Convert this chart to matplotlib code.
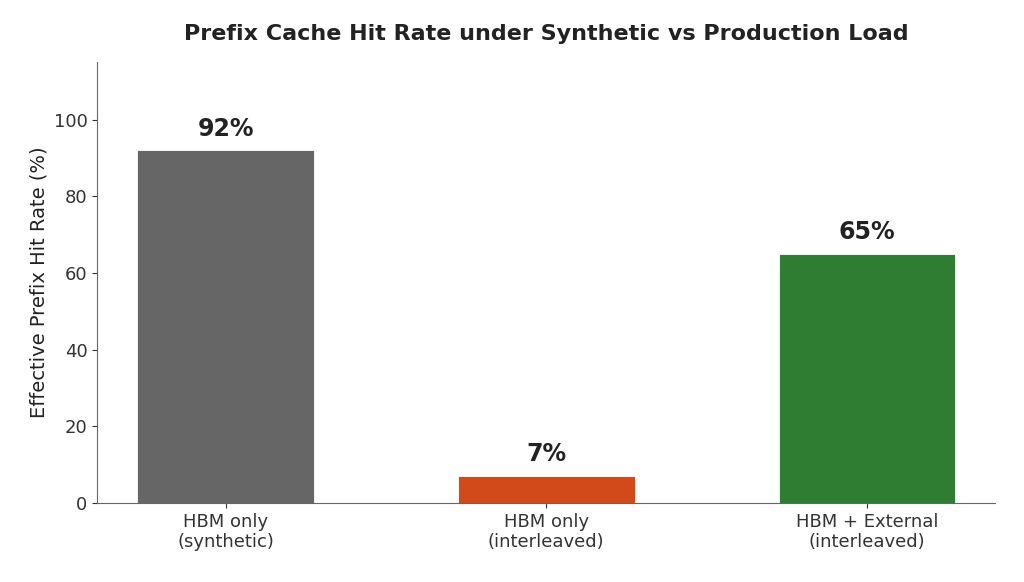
import matplotlib
matplotlib.use("Agg")
import matplotlib.pyplot as plt

# data
configs = ["HBM only\n(synthetic)", "HBM only\n(interleaved)", "HBM + External\n(interleaved)"]
hit_rates = [92, 7, 65]
bar_colors = ["#666666", "#d34a1a", "#2e7d32"]

plt.rcParams["text.color"] = "#222222"
plt.rcParams["axes.labelcolor"] = "#222222"
plt.rcParams["xtick.color"] = "#333333"
plt.rcParams["ytick.color"] = "#333333"

fig, ax = plt.subplots(figsize=(10.24, 5.82), dpi=100)

x = range(len(configs))
ax.bar(x, hit_rates, width=0.55, color=bar_colors,
       edgecolor="white", linewidth=0.6)

for xi, v in zip(x, hit_rates):
    ax.text(xi, v + 2.5, f"{v}%", ha="center", va="bottom",
            fontsize=17, fontweight="bold", color="#222222")

ax.set_xticks(list(x))
ax.set_xticklabels(configs, fontsize=13)
ax.tick_params(axis="y", labelsize=13)
ax.set_xlim(-0.4, 2.4)
ax.set_ylim(0, 115)
ax.set_yticks([0, 20, 40, 60, 80, 100])
ax.set_ylabel("Effective Prefix Hit Rate (%)", fontsize=14)
ax.set_title("Prefix Cache Hit Rate under Synthetic vs Production Load",
             fontsize=16, fontweight="bold", pad=16, color="#222222")

ax.spines["top"].set_visible(False)
ax.spines["right"].set_visible(False)
for s in ("left", "bottom"):
    ax.spines[s].set_color("#666666")

fig.subplots_adjust(left=0.095, right=0.972, top=0.893, bottom=0.136)
fig.savefig("out.png")
